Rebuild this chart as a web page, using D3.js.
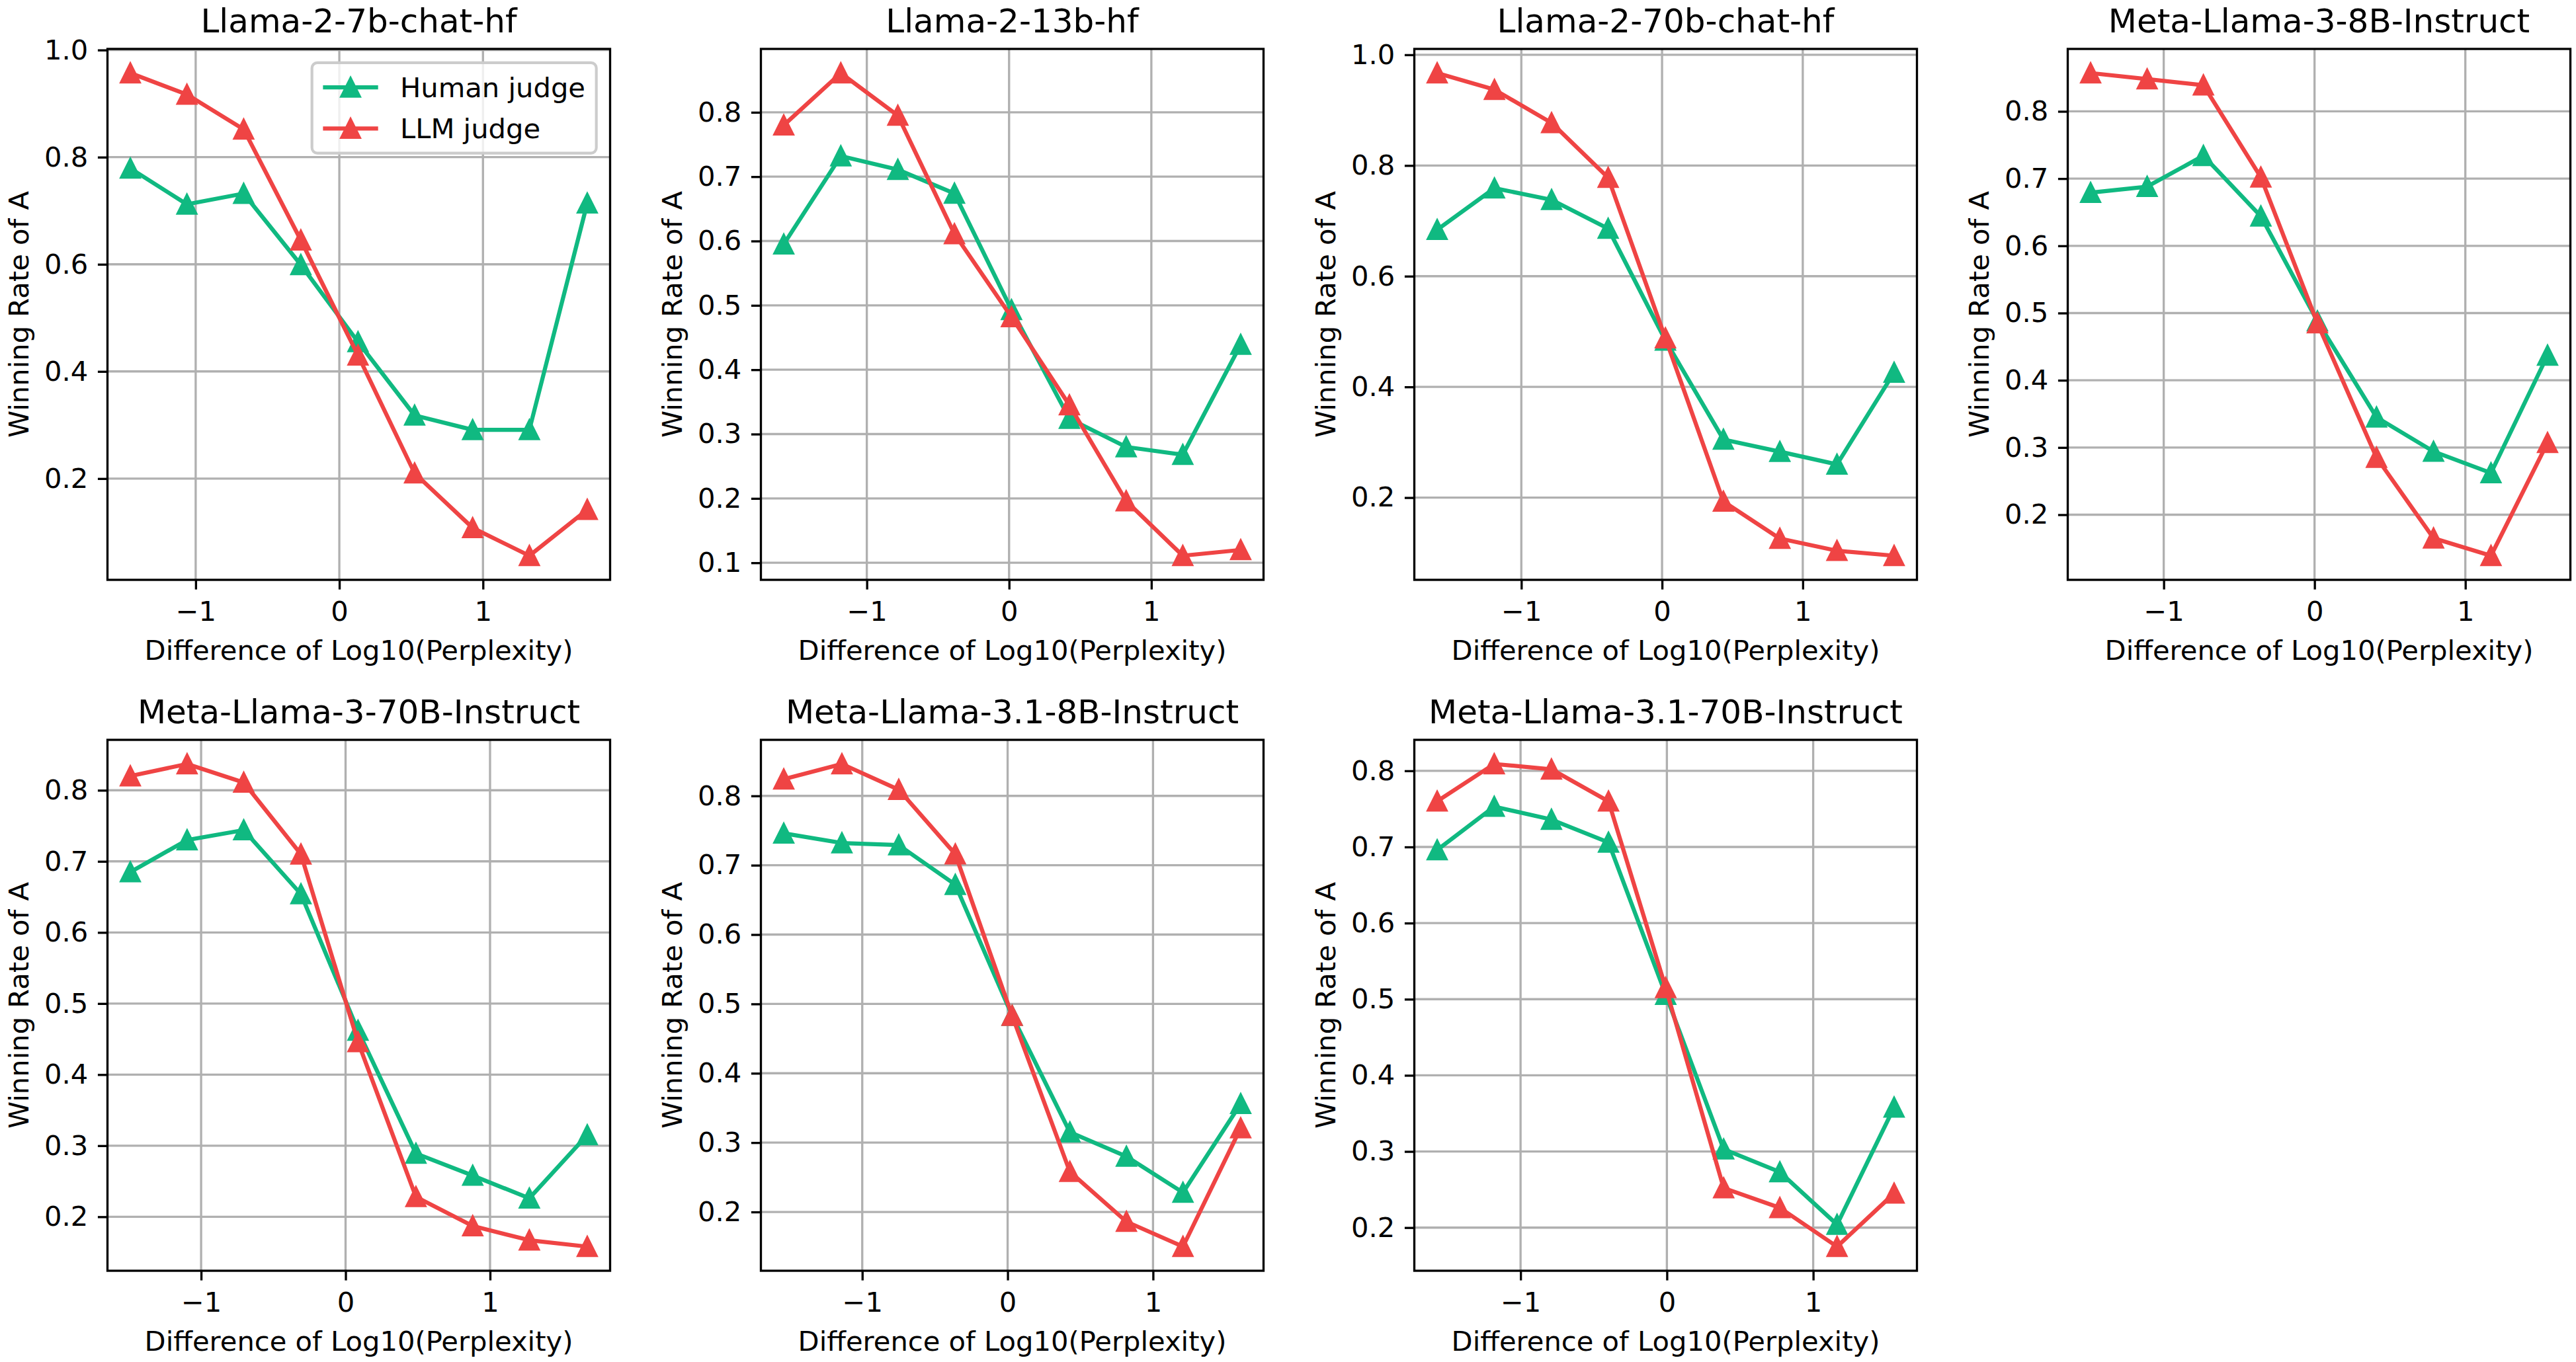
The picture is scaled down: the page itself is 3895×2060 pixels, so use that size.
<!DOCTYPE html>
<html>
<head>
<meta charset="utf-8">
<title>Winning Rate of A vs Difference of Log10(Perplexity)</title>
<script src="https://d3js.org/d3.v7.min.js"></script>
<style>
  body { margin: 0; background: #fff; }
  svg text { font-family: "DejaVu Sans", sans-serif; fill: #000; }
</style>
</head>
<body>
<div id="chart"></div>
<script>
// Data
const titles = [
  "Llama-2-7b-chat-hf", "Llama-2-13b-hf", "Llama-2-70b-chat-hf", "Meta-Llama-3-8B-Instruct",
  "Meta-Llama-3-70B-Instruct", "Meta-Llama-3.1-8B-Instruct", "Meta-Llama-3.1-70B-Instruct"
];
const xBins = [
  [-1.455, -1.061, -0.666, -0.268, 0.130, 0.524, 0.928, 1.323, 1.726],
  [-1.584, -1.183, -0.782, -0.384, 0.017, 0.424, 0.823, 1.221, 1.628],
  [-1.598, -1.191, -0.785, -0.383, 0.024, 0.436, 0.837, 1.243, 1.649],
  [-1.485, -1.110, -0.737, -0.356, 0.019, 0.411, 0.789, 1.170, 1.545],
  [-1.490, -1.097, -0.705, -0.309, 0.086, 0.487, 0.880, 1.272, 1.673],
  [-1.540, -1.140, -0.749, -0.360, 0.031, 0.428, 0.817, 1.206, 1.603],
  [-1.570, -1.180, -0.789, -0.399, -0.008, 0.388, 0.772, 1.163, 1.553]
];
const humanRates = [
  [0.779, 0.712, 0.732, 0.599, 0.455, 0.318, 0.291, 0.291, 0.714],
  [0.595, 0.732, 0.711, 0.674, 0.493, 0.324, 0.280, 0.268, 0.439],
  [0.684, 0.759, 0.738, 0.686, 0.484, 0.305, 0.283, 0.260, 0.426],
  [0.679, 0.688, 0.734, 0.644, 0.488, 0.345, 0.294, 0.262, 0.437],
  [0.685, 0.730, 0.744, 0.654, 0.462, 0.289, 0.258, 0.226, 0.315],
  [0.746, 0.732, 0.729, 0.672, 0.483, 0.315, 0.280, 0.228, 0.356],
  [0.696, 0.753, 0.736, 0.706, 0.506, 0.303, 0.273, 0.204, 0.358]
];
const llmRates = [
  [0.957, 0.917, 0.852, 0.645, 0.430, 0.210, 0.108, 0.056, 0.142],
  [0.780, 0.861, 0.795, 0.611, 0.482, 0.345, 0.196, 0.111, 0.120],
  [0.967, 0.937, 0.877, 0.778, 0.488, 0.193, 0.126, 0.104, 0.095],
  [0.857, 0.848, 0.839, 0.702, 0.485, 0.285, 0.165, 0.139, 0.307],
  [0.820, 0.837, 0.811, 0.710, 0.446, 0.228, 0.187, 0.167, 0.158],
  [0.824, 0.846, 0.809, 0.716, 0.483, 0.258, 0.186, 0.150, 0.321],
  [0.760, 0.809, 0.802, 0.760, 0.515, 0.252, 0.226, 0.175, 0.245]
];
const yTickValues = [
  [0.2, 0.4, 0.6, 0.8, 1.0],
  [0.1, 0.2, 0.3, 0.4, 0.5, 0.6, 0.7, 0.8],
  [0.2, 0.4, 0.6, 0.8, 1.0],
  [0.2, 0.3, 0.4, 0.5, 0.6, 0.7, 0.8],
  [0.2, 0.3, 0.4, 0.5, 0.6, 0.7, 0.8],
  [0.2, 0.3, 0.4, 0.5, 0.6, 0.7, 0.8],
  [0.2, 0.3, 0.4, 0.5, 0.6, 0.7, 0.8]
];
const xTickValues = [-1, 0, 1];
const seriesNames = ["Human judge", "LLM judge"];
const seriesColors = ["#10b981", "#ef4444"];

// Figure geometry (pixels, 300 dpi look)
const W = 3895, H = 2060;
const pt = 300 / 72;
const panelW = 760, panelH = 803;
const left0 = 162.5, colStep = 988;
const rowTops = [74, 1119];
const fontSize = 10 * pt, titleSize = 12 * pt;
const tickLen = 3.5 * pt, tickPad = 3.5 * pt;
const markerSize = 6.5 * pt;

const svg = d3.select("#chart")
  .append("svg")
  .attr("width", W)
  .attr("height", H)
  .style("display", "block");

svg.append("rect").attr("width", W).attr("height", H).attr("fill", "#fff");

function padded(ext) {
  const r = ext[1] - ext[0];
  return [ext[0] - 0.05 * r, ext[1] + 0.05 * r];
}

function triangle(s) {
  const h = s / 2;
  return `M0,${-h}L${-h},${h}L${h},${h}Z`;
}

function minusFormat(d) {
  return d < 0 ? "\u2212" + Math.abs(d) : String(d);
}

titles.forEach((title, i) => {
  const col = i % 4, row = Math.floor(i / 4);
  const g = svg.append("g")
    .attr("transform", `translate(${left0 + col * colStep}, ${rowTops[row]})`);

  const xs = xBins[i];
  const series = [humanRates[i], llmRates[i]];

  const x = d3.scaleLinear()
    .domain(padded(d3.extent(xs)))
    .range([0, panelW]);
  const y = d3.scaleLinear()
    .domain(padded(d3.extent(series.flat())))
    .range([panelH, 0]);

  const yTicks = yTickValues[i].filter(t => t >= y.domain()[0] && t <= y.domain()[1]);

  // grid
  g.append("g").selectAll("line").data(xTickValues).join("line")
    .attr("x1", d => x(d)).attr("x2", d => x(d))
    .attr("y1", 0).attr("y2", panelH)
    .attr("stroke", "#b0b0b0").attr("stroke-width", 0.8 * pt);
  g.append("g").selectAll("line").data(yTicks).join("line")
    .attr("x1", 0).attr("x2", panelW)
    .attr("y1", d => y(d)).attr("y2", d => y(d))
    .attr("stroke", "#b0b0b0").attr("stroke-width", 0.8 * pt);

  // lines and markers
  const line = d3.line().x((d, j) => x(xs[j])).y(d => y(d));
  series.forEach((vals, s) => {
    g.append("path")
      .datum(vals)
      .attr("d", line)
      .attr("fill", "none")
      .attr("stroke", seriesColors[s])
      .attr("stroke-width", 1.5 * pt)
      .attr("stroke-linejoin", "round");
    g.append("g").selectAll("path").data(vals).join("path")
      .attr("transform", (d, j) => `translate(${x(xs[j])}, ${y(d)})`)
      .attr("d", triangle(markerSize))
      .attr("fill", seriesColors[s])
      .attr("stroke", seriesColors[s])
      .attr("stroke-width", 1 * pt)
      .attr("stroke-linejoin", "miter");
  });

  // axes
  const xAxis = d3.axisBottom(x)
    .tickValues(xTickValues)
    .tickSize(tickLen)
    .tickPadding(tickPad)
    .tickFormat(minusFormat);
  const yAxis = d3.axisLeft(y)
    .tickValues(yTicks)
    .tickSize(tickLen)
    .tickPadding(tickPad)
    .tickFormat(d3.format(".1f"));

  const gx = g.append("g").attr("transform", `translate(0, ${panelH})`).call(xAxis);
  const gy = g.append("g").call(yAxis);
  [gx, gy].forEach(a => {
    a.select(".domain").remove();
    a.selectAll(".tick line").attr("stroke", "#000").attr("stroke-width", 0.8 * pt);
    a.selectAll(".tick text")
      .attr("font-size", fontSize)
      .attr("font-family", "DejaVu Sans, sans-serif")
      .attr("fill", "#000");
  });
  gx.selectAll(".tick text").attr("dy", "0.78em");

  // frame
  g.append("rect")
    .attr("width", panelW).attr("height", panelH)
    .attr("fill", "none")
    .attr("stroke", "#000")
    .attr("stroke-width", 0.8 * pt);

  // texts
  g.append("text")
    .attr("x", panelW / 2).attr("y", -25)
    .attr("text-anchor", "middle")
    .attr("font-size", titleSize)
    .text(title);
  g.append("text")
    .attr("x", panelW / 2).attr("y", panelH + 121)
    .attr("text-anchor", "middle")
    .attr("font-size", fontSize)
    .text("Difference of Log10(Perplexity)");
  g.append("text")
    .attr("transform", `translate(-134, ${panelH / 2}) rotate(-90)`)
    .attr("text-anchor", "middle")
    .attr("dominant-baseline", "central")
    .attr("font-size", fontSize)
    .text("Winning Rate of A");

  // legend in the first panel only
  if (i === 0) {
    const lg = g.append("g");
    const box = lg.append("rect");
    const bp = 0.4 * fontSize, handleLen = 2 * fontSize, handlePad = 0.8 * fontSize;
    const rowH = 41.3, spacing = 0.5 * fontSize;
    const texts = seriesNames.map((name, s) => {
      const cy = bp + rowH / 2 + s * (rowH + spacing);
      lg.append("line")
        .attr("x1", bp).attr("x2", bp + handleLen)
        .attr("y1", cy).attr("y2", cy)
        .attr("stroke", seriesColors[s])
        .attr("stroke-width", 1.5 * pt);
      lg.append("path")
        .attr("transform", `translate(${bp + handleLen / 2}, ${cy})`)
        .attr("d", triangle(markerSize))
        .attr("fill", seriesColors[s])
        .attr("stroke", seriesColors[s])
        .attr("stroke-width", 1 * pt);
      return lg.append("text")
        .attr("x", bp + handleLen + handlePad)
        .attr("y", cy)
        .attr("dominant-baseline", "central")
        .attr("font-size", fontSize)
        .text(name);
    });
    const textW = d3.max(texts, t => t.node().getComputedTextLength());
    const boxW = bp + handleLen + handlePad + textW + bp;
    const boxH = 2 * bp + 2 * rowH + spacing;
    box.attr("width", boxW).attr("height", boxH)
      .attr("rx", 8).attr("ry", 8)
      .attr("fill", "#fff").attr("fill-opacity", 0.8)
      .attr("stroke", "#cccccc").attr("stroke-width", 1 * pt);
    const axPad = 0.5 * fontSize;
    lg.attr("transform", `translate(${panelW - axPad - boxW}, ${axPad})`);
  }
});
</script>
</body>
</html>
